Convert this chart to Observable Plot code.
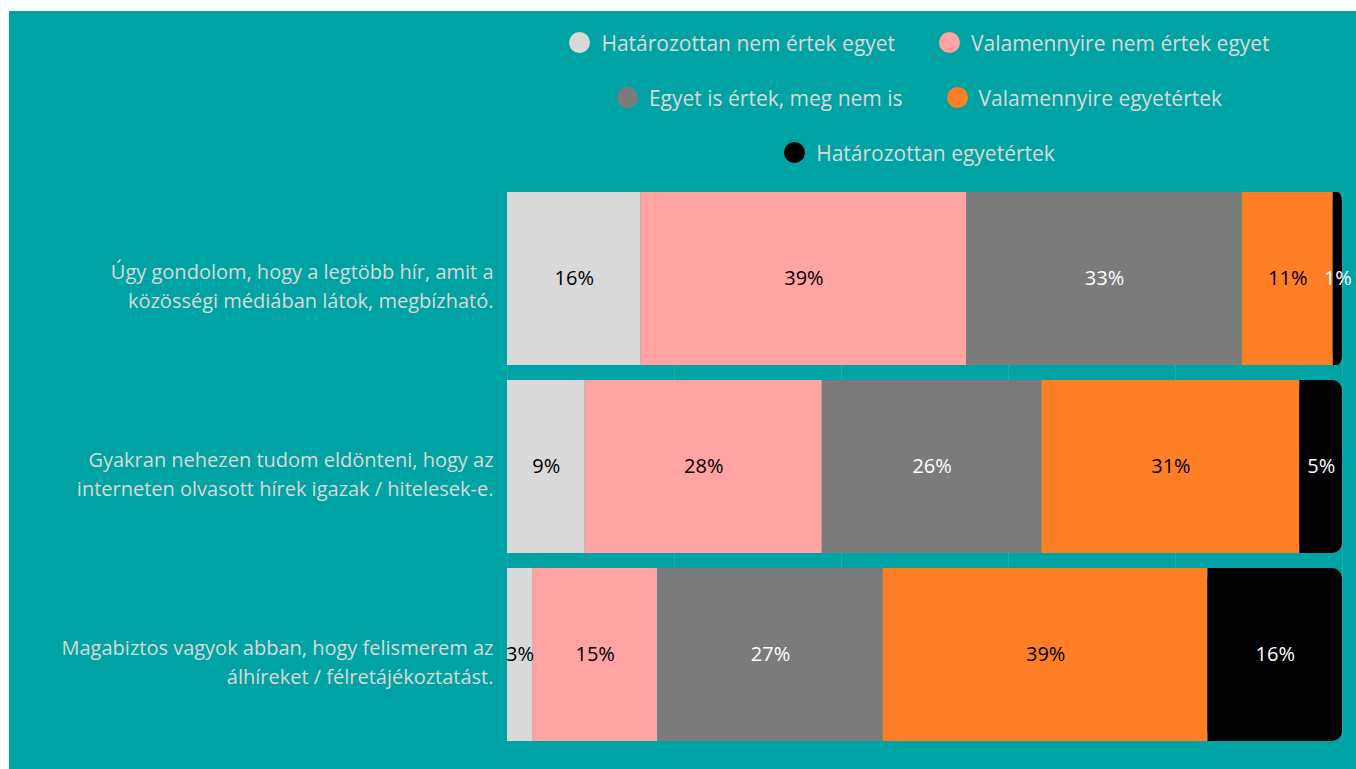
<!DOCTYPE html>
<html>
<head>
<meta charset="utf-8">
<script src="https://cdn.jsdelivr.net/npm/d3@7"></script>
<script src="https://cdn.jsdelivr.net/npm/@observablehq/plot@0.6"></script>
<style>
  html, body { margin: 0; padding: 0; background: #ffffff; }
  body { width: 1356px; height: 769px; position: relative; overflow: hidden; font-family: "Open Sans", sans-serif; }
  #panel { position: absolute; left: 9px; top: 11px; width: 1347px; height: 758px; background: #00A3A3; }
  #legend { position: absolute; left: 493px; top: 4px; width: 835px; color: #d9d9d9; font-size: 21px; }
  .lrow { display: flex; justify-content: center; align-items: center; height: 55px; gap: 44px; }
  .litem { display: flex; align-items: center; gap: 11px; white-space: nowrap; }
  .dot { width: 21px; height: 21px; border-radius: 50%; display: inline-block; }
  #chart { position: absolute; left: 0px; top: 169px; }
</style>
</head>
<body>
<div id="panel">
  <div id="legend"></div>
  <div id="chart"></div>
</div>
<script>
// ---- data ----
const questions = [
  "Úgy gondolom, hogy a legtöbb hír, amit a\nközösségi médiában látok, megbízható.",
  "Gyakran nehezen tudom eldönteni, hogy az\ninterneten olvasott hírek igazak / hitelesek-e.",
  "Magabiztos vagyok abban, hogy felismerem az\nálhíreket / félretájékoztatást."
];
const categories = [
  "Határozottan nem értek egyet",
  "Valamennyire nem értek egyet",
  "Egyet is értek, meg nem is",
  "Valamennyire egyetértek",
  "Határozottan egyetértek"
];
const colors = ["#D9D9D9", "#FFA3A3", "#7B7B7B", "#FF7F27", "#000000"];
const labelColors = ["#000000", "#000000", "#ffffff", "#000000", "#ffffff"];
const strongDisagree = [16.0, 9.3, 3.0];
const someDisagree   = [39.0, 28.4, 15.0];
const neutral        = [33.0, 26.3, 27.0];
const someAgree      = [10.9, 30.9, 38.9];
const strongAgree    = [1.1, 5.1, 16.1];
const xTicks = [0, 20, 40, 60, 80, 100];

// ---- build table ----
const series = [strongDisagree, someDisagree, neutral, someAgree, strongAgree];
const rows = [];
questions.forEach((q, qi) => {
  let acc = 0;
  series.forEach((s, ci) => {
    const v = s[qi];
    rows.push({q, cat: categories[ci], ci, value: v, x1: acc, x2: acc + v, last: ci === series.length - 1});
    acc += v;
  });
});

// ---- legend ----
const legendRows = [[0, 1], [2, 3], [4]];
const legend = document.getElementById("legend");
legendRows.forEach(r => {
  const row = document.createElement("div");
  row.className = "lrow";
  r.forEach(i => {
    const it = document.createElement("div");
    it.className = "litem";
    const dot = document.createElement("span");
    dot.className = "dot";
    dot.style.background = colors[i];
    const t = document.createElement("span");
    t.textContent = categories[i];
    it.appendChild(dot); it.appendChild(t);
    row.appendChild(it);
  });
  legend.appendChild(row);
});

// ---- chart ----
const normal = rows.filter(d => !d.last);
const lastSeg = rows.filter(d => d.last);
const chart = Plot.plot({
  width: 1347,
  height: 589,
  marginLeft: 498,
  marginRight: 14,
  marginTop: 12,
  marginBottom: 28,
  style: {background: "transparent", fontFamily: "'Open Sans', sans-serif", fontSize: "20px", overflow: "visible"},
  x: {domain: [0, 100], axis: null},
  y: {domain: questions, axis: null, paddingInner: 0.08, paddingOuter: 0},
  color: {domain: categories, range: colors},
  marks: [
    Plot.ruleX(xTicks, {stroke: "#ffffff", strokeOpacity: 0.1}),
    Plot.barX(normal, {x1: "x1", x2: "x2", y: "q", fill: "cat"}),
    Plot.barX(lastSeg, {x1: "x1", x2: "x2", y: "q", fill: "cat", rx: 10}),
    Plot.barX(lastSeg, {x1: "x1", x2: d => (d.x1 + d.x2) / 2, y: "q", fill: "cat"}),
    Plot.text(rows, {
      x: d => (d.x1 + d.x2) / 2, y: "q",
      text: d => Math.round(d.value) + "%",
      fill: d => labelColors[d.ci],
      fontSize: 20
    }),
    Plot.text(questions, {
      x: 0, y: d => d, text: d => d, dx: -14, dy: 5,
      textAnchor: "end", fill: "#d9d9d9", fontSize: 20, lineHeight: 1.45
    })
  ]
});
document.getElementById("chart").appendChild(chart);
</script>
</body>
</html>
